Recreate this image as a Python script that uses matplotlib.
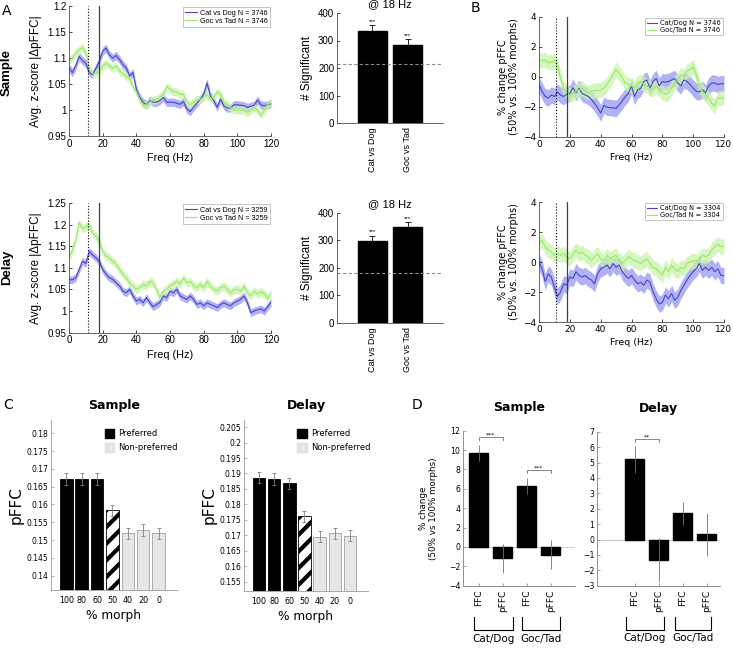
import numpy as np
import matplotlib
matplotlib.use('Agg')
import matplotlib.pyplot as plt
from matplotlib.patches import Patch
from matplotlib.ticker import FuncFormatter

plt.rcParams['hatch.linewidth'] = 3.0
plt.rcParams['font.family'] = 'DejaVu Sans'

# ---------------- data ----------------
freq = np.arange(0, 121, 2)

# panel A, sample epoch (avg z-score |dpFFC|)
a_samp_cat = [1.081, 1.072, 1.085, 1.103, 1.095, 1.09, 1.072, 1.068, 1.08, 1.094,
              1.113, 1.119, 1.106, 1.1, 1.105, 1.097, 1.087, 1.081, 1.065, 1.072,
              1.04, 1.024, 1.015, 1.01, 1.018, 1.015, 1.015, 1.018, 1.024, 1.015,
              1.015, 1.015, 1.013, 1.011, 1.016, 1.002, 0.997, 1.006, 1.013, 1.021,
              1.03, 1.052, 1.027, 1.018, 1.005, 1.021, 1.008, 1.004, 1.004, 1.01,
              1.01, 1.009, 1.008, 1.005, 1.007, 1.009, 1.019, 1.01, 1.008, 1.01, 1.012]
a_samp_goc = [1.095, 1.1, 1.11, 1.115, 1.12, 1.11, 1.08, 1.07, 1.07, 1.075,
              1.085, 1.09, 1.085, 1.08, 1.085, 1.075, 1.07, 1.065, 1.06, 1.045,
              1.035, 1.02, 1.01, 1.01, 1.015, 1.02, 1.02, 1.025, 1.03, 1.045,
              1.04, 1.035, 1.035, 1.03, 1.03, 1.015, 1.01, 1.015, 1.02, 1.02,
              1.025, 1.03, 1.02, 1.025, 1.035, 1.03, 1.015, 1.01, 1.005, 1.0,
              1.0, 1.0, 1.0, 0.995, 1.0, 1.005, 1.0, 0.99, 1.0, 1.01, 1.015]
# panel A, delay epoch
a_del_cat = [1.073, 1.072, 1.077, 1.096, 1.115, 1.11, 1.138, 1.13, 1.123, 1.115,
             1.096, 1.085, 1.077, 1.073, 1.065, 1.058, 1.046, 1.042, 1.05, 1.035,
             1.023, 1.027, 1.019, 1.031, 1.019, 1.01, 1.015, 1.02, 1.035, 1.031,
             1.046, 1.042, 1.05, 1.035, 1.031, 1.027, 1.035, 1.027, 1.015, 1.019,
             1.012, 1.019, 1.015, 1.012, 1.008, 1.015, 1.019, 1.015, 1.012, 1.019,
             1.023, 1.027, 1.035, 1.019, 0.996, 1.0, 1.003, 1.005, 1.0, 1.01, 1.02]
a_del_goc = [1.126, 1.14, 1.165, 1.205, 1.19, 1.195, 1.2, 1.18, 1.173, 1.162,
             1.138, 1.127, 1.123, 1.115, 1.108, 1.096, 1.085, 1.077, 1.065, 1.058,
             1.05, 1.054, 1.062, 1.058, 1.069, 1.065, 1.05, 1.031, 1.046, 1.05,
             1.058, 1.062, 1.069, 1.062, 1.077, 1.065, 1.069, 1.058, 1.054, 1.062,
             1.054, 1.069, 1.058, 1.05, 1.046, 1.054, 1.058, 1.05, 1.042, 1.05,
             1.05, 1.046, 1.058, 1.042, 1.035, 1.046, 1.04, 1.045, 1.04, 1.03, 1.04]
a_samp_n = 3746
a_del_n = 3259

# panel A bars (# significant @ 18 Hz)
bar_labels = ['Cat vs Dog', 'Goc vs Tad']
sig_samp = [335, 285]
sig_samp_err = [20, 20]
sig_samp_chance = 216
sig_del = [299, 350]
sig_del_err = [19, 18]
sig_del_chance = 182

# panel B, % change pFFC (50% vs 100% morphs)
b_samp_cat = [-0.5, -0.95, -1.3, -1.4, -1.2, -1.3, -1.0, -1.2, -1.3, -1.15,
              -1.1, -0.7, -1.05, -0.75, -1.1, -1.2, -1.3, -1.5, -1.75, -2.05,
              -2.4, -1.9, -2.0, -2.05, -2.05, -2.1, -1.85, -1.6, -1.3, -1.1,
              -0.6, -1.3, -0.85, -0.75, -0.3, -0.2, -0.75, -0.3, -0.1, -0.6,
              -0.3, -0.35, -0.3, -0.2, -0.1, -0.4, -0.6, -0.2, -0.3, -0.5,
              -0.75, -0.95, -1.0, -0.85, -1.05, -0.6, -0.4, -0.4, -0.5, -0.45, -0.45]
b_samp_goc = [1.1, 1.1, 1.15, 0.95, 1.0, 1.1, 0.7, -0.05, -0.75, -1.05,
              -1.2, -1.1, -0.95, -0.85, -0.75, -0.95, -1.05, -0.95, -0.9, -0.9,
              -0.85, -0.75, -0.5, -0.2, 0.15, 0.5, 0.25, -0.05, -0.4, -0.5,
              -0.6, -0.75, -0.4, -0.3, -0.5, -0.6, -0.75, -0.85, -0.6, -0.85,
              -1.05, -1.15, -1.05, -0.75, -0.4, -0.2, 0.15, 0.05, 0.4, 0.5,
              0.7, 0.15, -0.6, -0.95, -1.2, -1.4, -1.75, -1.95, -1.4, -1.4, -1.4]
b_del_cat = [0.0, -0.45, -1.3, -0.8, -1.0, -1.7, -2.3, -2.0, -1.45, -1.55,
             -1.0, -1.1, -0.65, -0.9, -1.0, -0.9, -1.1, -1.2, -1.45, -0.8,
             -0.45, -0.35, -0.2, -0.45, -0.1, -0.35, -0.2, -0.65, -0.9, -1.1,
             -0.9, -1.2, -1.45, -1.35, -1.55, -1.2, -1.35, -2.0, -2.45, -2.8,
             -2.7, -2.2, -2.45, -2.1, -2.55, -2.35, -1.9, -1.55, -1.2, -0.9,
             -0.65, -0.45, -0.1, -0.55, -0.35, -0.55, -0.35, -0.65, -0.45, -0.9, -0.9]
b_del_goc = [1.2, 1.45, 1.0, 0.8, 0.65, 0.45, 0.55, 0.45, 0.55, 0.35,
             0.2, 0.55, 0.8, 0.55, 0.65, 0.45, 0.35, 0.1, 0.35, 0.55,
             0.2, 0.1, 0.45, 0.2, 0.35, 0.45, 0.1, -0.1, 0.1, 0.35,
             0.2, 0.1, 0.0, -0.1, 0.1, 0.2, -0.1, -0.35, -0.45, -0.65,
             -0.9, -0.35, -0.65, -0.2, -0.45, -0.65, -0.35, -0.45, -0.1, 0.0,
             0.1, 0.0, 0.2, 0.45, 0.35, 0.45, 0.8, 1.0, 1.2, 1.0, 1.1]
b_samp_n = 3746
b_del_n = 3304

# panel C, pFFC by % morph
morph_labels = ['100', '80', '60', '50', '40', '20', '0']
c_samp = [0.1672, 0.1672, 0.1672, 0.1584, 0.1519, 0.1528, 0.1519]
c_samp_err = [0.0016, 0.0016, 0.0016, 0.0015, 0.0015, 0.0016, 0.0015]
c_del = [0.1886, 0.1881, 0.1868, 0.1761, 0.1696, 0.1706, 0.1699]
c_del_err = [0.0018, 0.0019, 0.0018, 0.0018, 0.0018, 0.0017, 0.0017]

# panel D, % change (50% vs 100% morphs)
d_labels = ['FFC', 'pFFC', 'FFC', 'pFFC']
d_samp = [9.7, -1.15, 6.3, -0.8]
d_samp_err = [0.85, 1.5, 0.85, 1.5]
d_del = [5.2, -1.35, 1.7, 0.33]
d_del_err = [0.85, 1.42, 0.73, 1.42]

# ---------------- style ----------------
BLUE = '#4646c8'
BLUE_BAND = '#a4a4f2'
GREEN = '#9ce86a'
GREEN_BAND = '#c8f4aa'
ARIAL = 'Liberation Sans'

W, H = 733.0, 649.0


def rect(l, r, t, b):
    return [l / W, 1 - b / H, (r - l) / W, (b - t) / H]


fig = plt.figure(figsize=(7.33, 6.49), dpi=100)


def clean(ax, color='k'):
    ax.spines['top'].set_visible(False)
    ax.spines['right'].set_visible(False)
    for s in ('left', 'bottom'):
        ax.spines[s].set_color(color)
        ax.spines[s].set_linewidth(0.6)


def line_panel(ax, cat, goc, cat_err, goc_err, labels, font, fs):
    cat = np.array(cat)
    goc = np.array(goc)
    ax.fill_between(freq, cat - cat_err, cat + cat_err, color=BLUE_BAND, lw=0, alpha=0.85)
    ax.fill_between(freq, goc - goc_err, goc + goc_err, color=GREEN_BAND, lw=0, alpha=0.75)
    ax.plot(freq, cat, color=BLUE, lw=0.8, label=labels[0])
    ax.plot(freq, goc, color=GREEN, lw=0.8, label=labels[1])
    ax.axvline(11, color='k', ls=':', lw=0.8)
    ax.axvline(18, color='0.25', lw=0.9)
    ax.set_xlim(0, 120)
    ax.set_xticks(range(0, 121, 20))
    clean(ax, '0.3')
    ax.tick_params(direction='in', length=2, width=0.5, labelsize=fs, pad=2)
    for t in ax.get_xticklabels() + ax.get_yticklabels():
        t.set_fontfamily(font)
    leg = ax.legend(loc='upper right', fancybox=False, edgecolor='0.6',
                    borderpad=0.3, handlelength=1.6, labelspacing=0.15,
                    handletextpad=0.4, borderaxespad=0.2,
                    prop={'family': font, 'size': 5.2 if font == ARIAL else 4.8})
    leg.get_frame().set_linewidth(0.5)


# ---- panel A lines ----
tick_fmt = FuncFormatter(lambda v, p: '%g' % round(v, 4))

ax = fig.add_axes(rect(69, 271, 6, 136))
line_panel(ax, a_samp_cat, a_samp_goc, 0.008, 0.008,
           ['Cat vs Dog N = %d' % a_samp_n, 'Goc vs Tad N = %d' % a_samp_n], ARIAL, 7)
ax.set_ylim(0.95, 1.2)
ax.set_yticks(np.arange(0.95, 1.201, 0.05))
ax.yaxis.set_major_formatter(tick_fmt)
ax.set_xlabel('Freq (Hz)', fontfamily=ARIAL, fontsize=7.8, labelpad=3)
ax.set_ylabel('Avg. z-score |ΔpFFC|', fontfamily=ARIAL, fontsize=8.5, labelpad=4)

ax = fig.add_axes(rect(69, 271, 203, 332.6))
line_panel(ax, a_del_cat, a_del_goc, 0.009, 0.01,
           ['Cat vs Dog N = %d' % a_del_n, 'Goc vs Tad N = %d' % a_del_n], ARIAL, 7)
ax.set_ylim(0.95, 1.25)
ax.set_yticks(np.arange(0.95, 1.251, 0.05))
ax.yaxis.set_major_formatter(tick_fmt)
ax.set_xlabel('Freq (Hz)', fontfamily=ARIAL, fontsize=7.8, labelpad=3)
ax.set_ylabel('Avg. z-score |ΔpFFC|', fontfamily=ARIAL, fontsize=8.5, labelpad=4)


# ---- panel A bars ----
def sig_bar_panel(ax, vals, errs, chance):
    x = [1, 2]
    ax.bar(x, vals, width=0.82, color='k', edgecolor='k')
    ax.errorbar(x, vals, yerr=[[0, 0], errs], fmt='none', ecolor='k',
                elinewidth=0.6, capsize=2, capthick=0.6)
    for xi, v, e in zip(x, vals, errs):
        ax.text(xi, v + e + 4, '***', ha='center', va='bottom', fontsize=4.5,
                fontfamily=ARIAL)
    ax.axhline(chance, color='0.55', ls='--', lw=0.8, dashes=(3, 2))
    ax.set_xlim(0, 3)
    ax.set_ylim(0, 400)
    ax.set_yticks(range(0, 401, 100))
    ax.set_xticks(x)
    ax.set_xticklabels(bar_labels, rotation=90, fontfamily=ARIAL, fontsize=6.5)
    clean(ax, '0.3')
    ax.tick_params(axis='y', direction='in', length=2, width=0.5, labelsize=7, pad=2)
    ax.tick_params(axis='x', length=0, pad=3)
    for t in ax.get_yticklabels():
        t.set_fontfamily(ARIAL)
    ax.set_title('@ 18 Hz', fontfamily=ARIAL, fontsize=8, pad=4)
    ax.set_ylabel('# Significant', fontfamily=ARIAL, fontsize=8.5, labelpad=4)


ax = fig.add_axes(rect(337, 443, 13, 123))
sig_bar_panel(ax, sig_samp, sig_samp_err, sig_samp_chance)
ax = fig.add_axes(rect(337, 443, 213, 323))
sig_bar_panel(ax, sig_del, sig_del_err, sig_del_chance)

# ---- panel B ----
for (top, bot, cat, goc, n) in [(17, 137, b_samp_cat, b_samp_goc, b_samp_n),
                                (202, 322, b_del_cat, b_del_goc, b_del_n)]:
    ax = fig.add_axes(rect(539, 724, top, bot))
    line_panel(ax, cat, goc, 0.55, 0.5,
               ['Cat/Dog N = %d' % n, 'Goc/Tad N = %d' % n], 'DejaVu Sans', 6.5)
    ax.set_ylim(-4, 4)
    ax.set_yticks(range(-4, 5, 2))
    ax.set_xlabel('Freq (Hz)', fontsize=6.8, labelpad=3)
    ax.set_ylabel('% change pFFC\n(50% vs. 100% morphs)', fontsize=7, labelpad=3,
                  linespacing=1.1)


# ---- panel C ----
def morph_panel(ax, vals, errs, ylim, yticks, title):
    x = np.arange(1, 8)
    colors = ['k', 'k', 'k', 'white', '#e6e6e6', '#e6e6e6', '#e6e6e6']
    edges = ['k', 'k', 'k', 'k', '#a0a0a0', '#a0a0a0', '#a0a0a0']
    bars = ax.bar(x, vals, width=0.82, color=colors, edgecolor=edges, linewidth=0.6)
    bars[3].set_hatch('//')
    ax.errorbar(x, vals, yerr=errs, fmt='none', ecolor='0.5', elinewidth=0.6,
                capsize=1.5, capthick=0.6)
    ax.set_xlim(0.0, 8.2)
    ax.set_ylim(*ylim)
    ax.set_yticks(yticks)
    ax.yaxis.set_major_formatter(tick_fmt)
    ax.set_xticks(x)
    ax.set_xticklabels(morph_labels)
    clean(ax, '0.6')
    ax.tick_params(axis='y', direction='in', length=2, width=0.5, color='0.6',
                   labelsize=5.5, pad=2)
    ax.tick_params(axis='x', length=0, labelsize=5.8, pad=4)
    ax.set_xlabel('% morph', fontsize=8.7, labelpad=3)
    ax.set_title(title, fontsize=9, fontweight='bold', pad=8)
    handles = [Patch(facecolor='k', edgecolor='k', label='Preferred'),
               Patch(facecolor='#e6e6e6', edgecolor='#e0e0e0', label='Non-preferred')]
    ax.legend(handles=handles, loc='upper left', bbox_to_anchor=(0.37, 0.99),
              frameon=False, fontsize=6, handlelength=1.1, handleheight=1.2,
              labelspacing=0.6, handletextpad=0.5)


ax = fig.add_axes(rect(51, 177, 420, 590))
morph_panel(ax, c_samp, c_samp_err, (0.136, 0.1837), np.arange(0.14, 0.1801, 0.005),
            'Sample')
ax.set_ylabel('pFFC', fontsize=11, labelpad=2)
ax = fig.add_axes(rect(244, 368, 420, 591))
morph_panel(ax, c_del, c_del_err, (0.152, 0.2073), np.arange(0.155, 0.2051, 0.005),
            'Delay')
ax.set_ylabel('pFFC', fontsize=11, labelpad=2)


# ---- panel D ----
def sig_line(ax, x1, x2, y, h, txt):
    ax.plot([x1, x1, x2, x2], [y - h, y, y, y - h], color='0.45', lw=0.6)
    ax.text((x1 + x2) / 2, y, txt, ha='center', va='bottom', fontsize=4.5)


def group_bracket(ax, x1, x2, label):
    tr = ax.get_xaxis_transform()
    ax.plot([x1, x1, x2, x2], [-0.2, -0.285, -0.285, -0.2], color='k', lw=0.8,
            transform=tr, clip_on=False)
    ax.text((x1 + x2) / 2, -0.31, label, ha='center', va='top', fontsize=7.5,
            transform=tr)


def change_panel(ax, vals, errs, xlim, ylim, yticks, title):
    x = np.arange(1, 5)
    ax.axhline(0, color='0.8', lw=0.8, zorder=0)
    ax.bar(x, vals, width=0.8, color='k', edgecolor='k')
    ax.errorbar(x, vals, yerr=errs, fmt='none', ecolor='0.45', elinewidth=0.6,
                capsize=0)
    ax.set_xlim(*xlim)
    ax.set_ylim(*ylim)
    ax.set_yticks(yticks)
    ax.set_xticks(x)
    ax.set_xticklabels(d_labels, rotation=90, fontsize=6.5)
    clean(ax, '0.5')
    ax.tick_params(axis='y', direction='in', length=2, width=0.5, color='0.5',
                   labelsize=5.6, pad=2)
    ax.tick_params(axis='x', direction='in', length=2, width=0.5, color='0.5', pad=3)
    ax.set_title(title, fontsize=9, fontweight='bold', pad=14)


ax = fig.add_axes(rect(463, 575, 430.7, 585.7))
change_panel(ax, d_samp, d_samp_err, (0.35, 5.02), (-4, 12), range(-4, 13, 2), 'Sample')
sig_line(ax, 1, 2, 11.3, 0.3, '***')
sig_line(ax, 3, 4, 7.9, 0.3, '***')
group_bracket(ax, 0.8, 2.45, 'Cat/Dog')
group_bracket(ax, 2.8, 4.4, 'Goc/Tad')
ax.set_ylabel('% change\n(50% vs 100% morphs)', fontsize=6.3, labelpad=8, linespacing=1.1)

ax = fig.add_axes(rect(597, 720, 431.7, 585.7))
change_panel(ax, d_del, d_del_err, (-0.58, 4.56), (-3, 7), range(-3, 8), 'Delay')
sig_line(ax, 1, 2, 6.5, 0.15, '**')
group_bracket(ax, 0.65, 2.2, 'Cat/Dog')
group_bracket(ax, 2.7, 4.2, 'Goc/Tad')

# ---- row labels & panel letters ----
fig.text(7 / W, 1 - 72 / H, 'Sample', rotation=90, ha='center', va='center',
         fontsize=9.5, fontweight='bold', fontfamily=ARIAL)
fig.text(7 / W, 1 - 267 / H, 'Delay', rotation=90, ha='center', va='center',
         fontsize=9.5, fontweight='bold', fontfamily=ARIAL)
fig.text(2 / W, 1 - 11 / H, 'A', fontsize=10, va='center')
fig.text(471 / W, 1 - 8 / H, 'B', fontsize=10, va='center')
fig.text(3 / W, 1 - 405 / H, 'C', fontsize=10, va='center')
fig.text(412 / W, 1 - 405 / H, 'D', fontsize=10, va='center')

fig.savefig('out.png', dpi=100)
